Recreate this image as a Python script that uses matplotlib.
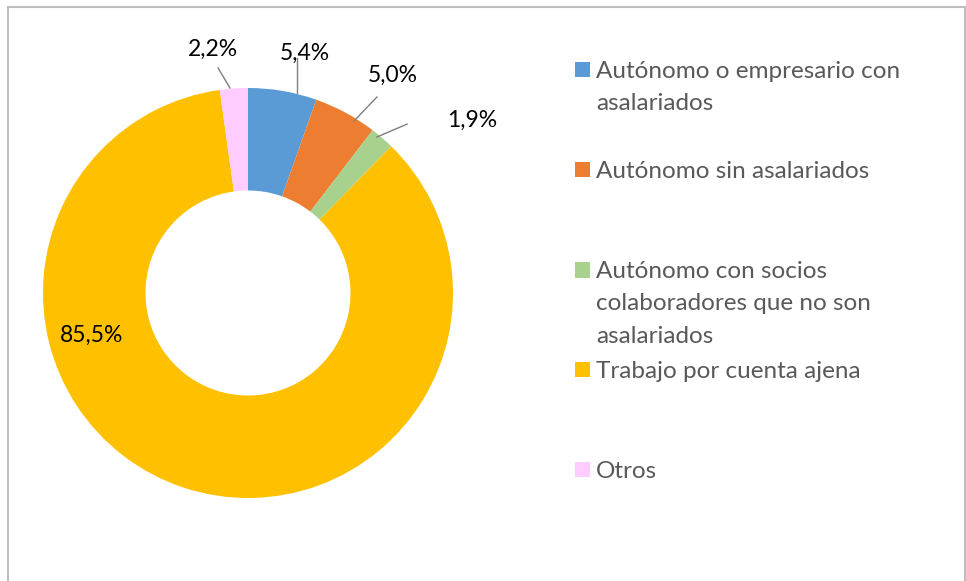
import matplotlib
matplotlib.use("Agg")
import matplotlib.pyplot as plt
from matplotlib.lines import Line2D
from matplotlib.patches import Rectangle
import numpy as np

categories = [
    "Autónomo o empresario con\nasalariados",
    "Autónomo sin asalariados",
    "Autónomo con socios\ncolaboradores que no son\nasalariados",
    "Trabajo por cuenta ajena",
    "Otros",
]
values = [5.4, 5.0, 1.9, 85.5, 2.2]
value_labels = ["5,4%", "5,0%", "1,9%", "85,5%", "2,2%"]
colors = ["#5B9BD5", "#ED7D31", "#A9D18E", "#FFC000", "#FFCCFF"]

W, H = 966, 581
fig = plt.figure(figsize=(W / 100, H / 100), dpi=100)
FONT = "Lato"

# pie axes (pixel layout)
cx, cy, R = 248, 293, 205
ax = fig.add_axes([(cx - R) / W, (H - cy - R) / H, 2 * R / W, 2 * R / H])
ax.pie(values, colors=colors, startangle=90, counterclock=False,
       radius=1.0, wedgeprops=dict(width=0.5, linewidth=0))
ax.set_xlim(-1, 1)
ax.set_ylim(-1, 1)
ax.set_aspect("auto")
ax.axis("off")

# data label positions (in radius units) and leader lines
label_pos = [(0.278, 1.171), (0.707, 1.063), (1.093, 0.844), (-0.761, -0.205), (-0.171, 1.19)]
leaders = [((0.239, 1.146), (0.239, 0.976)),
           ((0.629, 0.956), (0.517, 0.839)),
           ((0.776, 0.824), (0.629, 0.761)),
           None,
           ((-0.146, 1.098), (-0.088, 1.0))]
for lab, pos, ld in zip(value_labels, label_pos, leaders):
    ax.text(pos[0], pos[1], lab, ha="center", va="center", fontsize=16.5,
            family=FONT, color="#000000", clip_on=False)
    if ld is not None:
        ax.plot([ld[0][0], ld[1][0]], [ld[0][1], ld[1][1]], color="#7F7F7F",
                lw=1.0, clip_on=False)

# legend (manual, pixel layout)
legend_baselines = [77.7, 177.5, 278, 377.5, 477.5]
line_step = 32.5
for cat, col, base in zip(categories, colors, legend_baselines):
    fig.patches.append(Rectangle(((575) / W, (H - base + 0.5) / H), 15 / W, 15 / H,
                                 transform=fig.transFigure, facecolor=col,
                                 edgecolor="none"))
    for i, line in enumerate(cat.split("\n")):
        fig.text(596 / W, (H - base - i * line_step) / H, line, ha="left",
                 va="baseline", fontsize=17.5, family=FONT,
                 color="#595959")

# chart border
bc = "#BFBFBF"
fig.add_artist(Line2D([8 / W, 8 / W], [0, (H - 7) / H], color=bc, lw=1.5, transform=fig.transFigure))
fig.add_artist(Line2D([8 / W, 964.5 / W], [(H - 7) / H, (H - 7) / H], color=bc, lw=1.5, transform=fig.transFigure))
fig.add_artist(Line2D([964.5 / W, 964.5 / W], [0, (H - 7) / H], color=bc, lw=1.5, transform=fig.transFigure))

fig.savefig("out.png", dpi=100)
